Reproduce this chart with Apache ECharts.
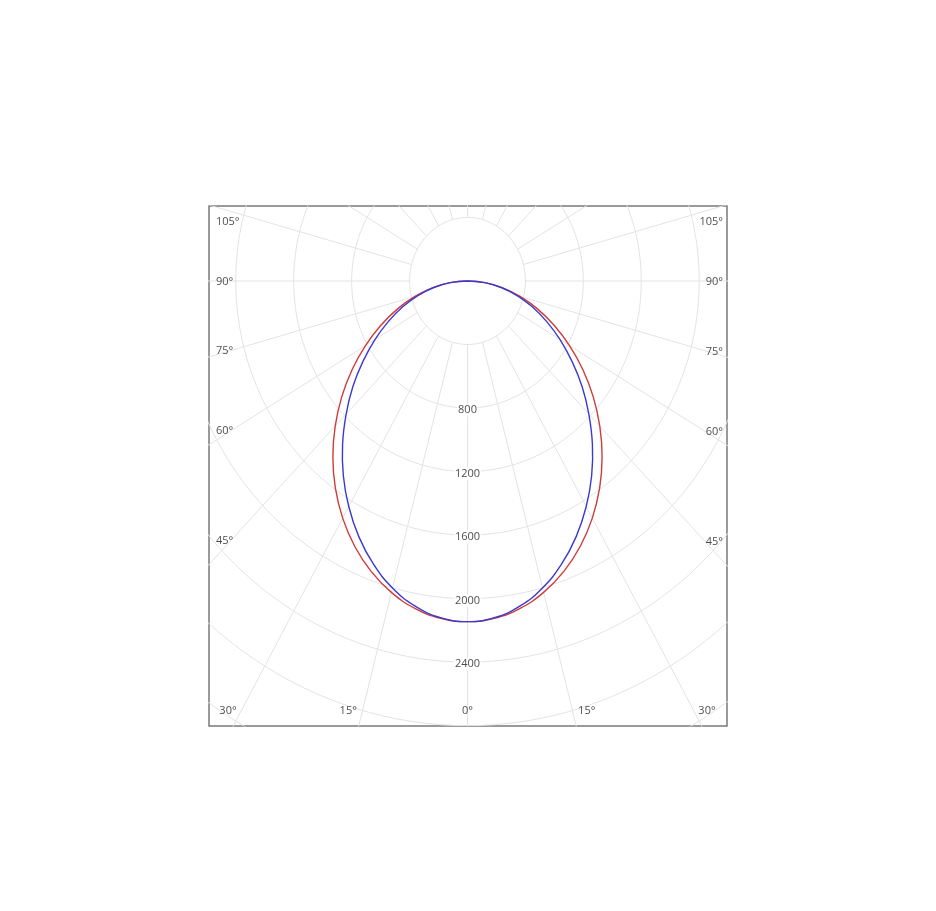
<!DOCTYPE html>
<html><head><meta charset="utf-8">
<script src="https://cdn.jsdelivr.net/npm/echarts@6/dist/echarts.min.js"></script>
<style>html,body{margin:0;padding:0;background:#fff}#c{width:936px;height:911px}</style>
</head><body><div id="c"></div><script>
// gamma angles (deg) for each half-plane
const angles = [0,5,10,15,20,25,30,35,40,45,50,55,60,65,70,75,80,85,90];
// luminous intensity (cd)
const redValues  = [2145,2132,2093,2030,1946,1843,1724,1591,1446,1292,1133,972,812,660,514,376,247,123,0];
const blueValues = [2145,2128,2079,2001,1898,1776,1640,1495,1342,1185,1033,880,738,602,476,355,236,118,0];
// grid
const ringValues = [400,800,1200,1600,2000,2400,2800,3200,3600];
const ringLabels = [800,1200,1600,2000,2400];
const spokeAngles = [0,15,30,45,60,75,90,105,120,135,150,165,180,195,210,225,240,255,270,285,300,315,330,345];
const sideLabelAngles = [45,60,75,90,105];
const bottomLabelAngles = [0,15,30];

const X_MIN = -1785, X_MAX = 1792, Y_MIN = -2802, Y_MAX = 472;
const G = {left:209, top:206, width:518, height:520};
const sx = G.width/(X_MAX-X_MIN), sy = G.height/(Y_MAX-Y_MIN);
const rad = d => d*Math.PI/180;

function curve(vals){
  const pts = [];
  for (let i = angles.length-1; i >= 0; i--) pts.push([-vals[i]*Math.sin(rad(angles[i])), -vals[i]*Math.cos(rad(angles[i]))]);
  for (let i = 1; i < angles.length; i++) pts.push([vals[i]*Math.sin(rad(angles[i])), -vals[i]*Math.cos(rad(angles[i]))]);
  return pts;
}
const gridStyle = {color:'#e3e3e3', width:1};
const series = [];
ringValues.forEach(r => {
  const d = [];
  for (let a = 0; a <= 360; a += 2) d.push([r*Math.sin(rad(a)), -r*Math.cos(rad(a))]);
  series.push({type:'line', data:d, symbol:'none', silent:true, lineStyle:gridStyle, z:1, animation:false});
});
spokeAngles.forEach(a => {
  series.push({type:'line', symbol:'none', silent:true, lineStyle:gridStyle, z:1, animation:false,
    data:[[400*Math.sin(rad(a)), -400*Math.cos(rad(a))],[6000*Math.sin(rad(a)), -6000*Math.cos(rad(a))]]});
});
// radial value labels
series.push({type:'scatter', symbolSize:1, itemStyle:{color:'rgba(0,0,0,0)'}, z:2, silent:true, animation:false,
  data: ringLabels.map(v => [0, -v, v]),
  label:{show:true, position:'inside', offset:[0,2], formatter:p=>String(p.value[2]), color:'#222',
    fontFamily:'Open Sans', fontSize:11, backgroundColor:'#fff', padding:[1,1]}});
// angle labels at the frame
const halfL = -X_MIN*sx, halfR = X_MAX*sx, upPx = Y_MAX*sy, downPx = -Y_MIN*sy;
const angleData = [];
sideLabelAngles.forEach(a => {
  let off = halfL/Math.tan(rad(a)); // px below centre
  off = Math.max(off, -upPx+15);
  angleData.push({value:[X_MIN, -off/sy], label:{align:'left', offset:[7,1]}, name:a+'°'});
  let offR = halfR/Math.tan(rad(a));
  offR = Math.max(offR, -upPx+15);
  angleData.push({value:[X_MAX, -offR/sy], label:{align:'right', offset:[-4,1]}, name:a+'°'});
});
bottomLabelAngles.forEach(a => {
  let px = downPx*Math.tan(rad(a));
  px = Math.min(px, halfR-20);
  const sides = a === 0 ? [1] : [-1, 1];
  sides.forEach(s => angleData.push({value:[s*px/sx, Y_MIN], label:{align:'center', offset:[0,-15]}, name:a+'°'}));
});
series.push({type:'scatter', symbolSize:1, itemStyle:{color:'rgba(0,0,0,0)'}, z:2, silent:true, clip:false, animation:false,
  data: angleData,
  label:{show:true, position:'inside', formatter:p=>p.name, color:'#222', fontFamily:'Open Sans', fontSize:11}});
// intensity curves: smooth path through the points, positioned by the axes
function curveSeries(name, vals, color, z){
  const pts = curve(vals);
  return {type:'custom', name, coordinateSystem:'cartesian2d', data:pts, encode:{x:0, y:1}, z, silent:true, animation:false,
    renderItem:(params, api) => {
      if (params.dataIndex !== 0) return null;
      return {type:'polyline', shape:{points: pts.map(p => api.coord(p)), smooth:0.45},
        style:{stroke:color, lineWidth:1.4, fill:null, lineJoin:'round'}};
    }};
}
series.push(curveSeries('C0-C180', redValues, '#cf3b3b', 5));
series.push(curveSeries('C90-C270', blueValues, '#3a3ad0', 6));

const chart = echarts.init(document.getElementById('c'), null, {renderer:'canvas'});
chart.setOption({
  backgroundColor:'#fff',
  animation:false,
  grid:{left:G.left, top:G.top, width:G.width, height:G.height, show:true, borderColor:'#7a7a7a', borderWidth:1.5, containLabel:false},
  xAxis:{type:'value', min:X_MIN, max:X_MAX, show:false},
  yAxis:{type:'value', min:Y_MIN, max:Y_MAX, show:false},
  series
});
</script></body></html>
